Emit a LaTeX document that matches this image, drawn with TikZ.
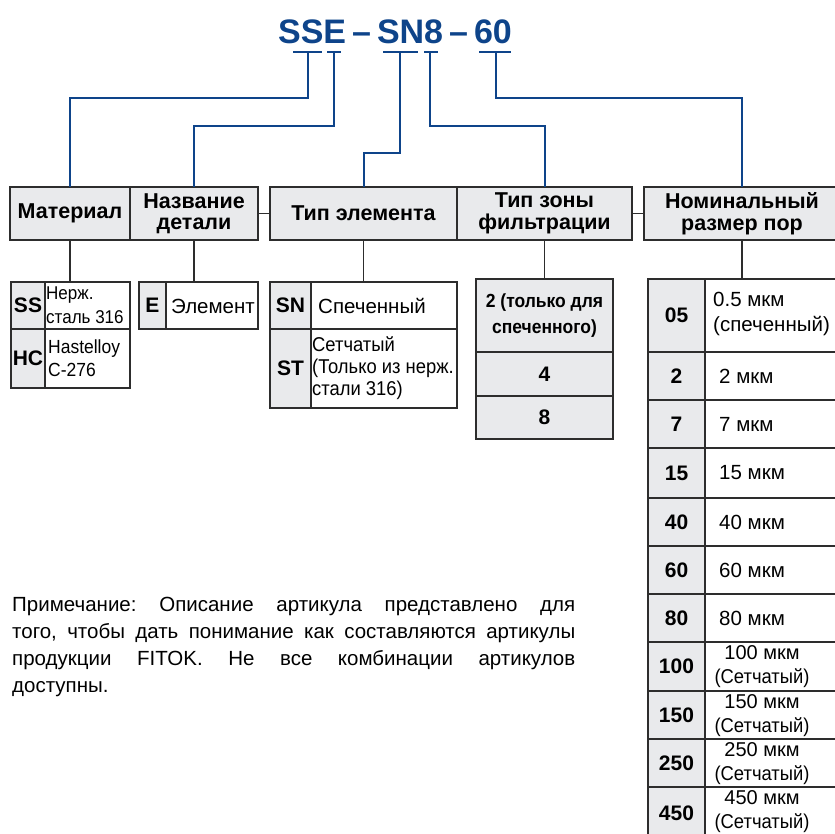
\documentclass[tikz,border=0pt]{standalone}
\usepackage{fontspec}
\setmainfont{Liberation Sans}
\newfontfamily\narrowfont[FakeStretch=0.92]{Liberation Sans}
\definecolor{fblue}{RGB}{14,68,138}
\definecolor{hgray}{RGB}{233,234,236}
\definecolor{bord}{RGB}{45,45,45}
\newcommand\cell[7][]{\node[box,#1,minimum width={(#5-#3)*1pt},minimum height={(#6-#4)*1pt}] (#2) at (#3,#4) {#7};}
\begin{document}
\begin{tikzpicture}[x=1pt,y=-1pt,
  box/.style={draw=bord, line width=1.3pt, anchor=north west, inner sep=0pt, outer sep=0pt},
  head/.style={box, fill=hgray, font=\bfseries\fontsize{21.5}{21.5}\selectfont, align=center},
  codec/.style={fill=hgray, font=\bfseries\fontsize{21}{22}\selectfont, align=center},
  desc/.style={anchor=west, inner sep=0pt, font=\fontsize{20.5}{24}\selectfont, align=left},
  ndesc/.style={anchor=west, inner sep=0pt, font=\narrowfont\fontsize{19}{23}\selectfont, align=left},
  bluel/.style={draw=fblue, line width=2pt},
  gline/.style={draw=bord, line width=1.3pt}]
\useasboundingbox (0,0) rectangle (835,833);

% title
\node[text=fblue, font=\bfseries\fontsize{34}{36}\selectfont, inner sep=0pt] (title) at (395,32) {SSE\hspace{6pt}--\hspace{6pt}SN8\hspace{6pt}--\hspace{6pt}60};
\coordinate (b1a) at (293,52); \coordinate (b1b) at (322,52);
\coordinate (b2a) at (327,52); \coordinate (b2b) at (341,52);
\coordinate (b3a) at (383,52); \coordinate (b3b) at (418,52);
\coordinate (b4a) at (424,52); \coordinate (b4b) at (438,52);
\coordinate (b5a) at (479,52); \coordinate (b5b) at (511,52);
\coordinate (t1) at (308,52); \coordinate (t2) at (334,52);
\coordinate (t3) at (400,52); \coordinate (t4) at (430,52);
\coordinate (t5) at (496,52);

% headers
\cell[head]{mat}{10}{187}{130}{240}{Материал}
\cell[head]{name}{130}{187}{258}{240}{Название\\детали}
\cell[head]{elem}{270}{187}{457}{240}{Тип элемента}
\cell[head]{zone}{457}{187}{632}{240}{Тип зоны\\фильтрации}
\cell[head]{size}{644}{187}{840}{240}{Номинальный\\размер пор}
\draw[gline] (name.east) -- (elem.west);
\draw[gline] (zone.east) -- (size.west);

% blue connectors
\foreach \i in {1,...,5} {\draw[bluel] (b\i a) -- (b\i b);}
\draw[bluel] (t1) -- (t1 |- 0,98) -| (mat.north);
\draw[bluel] (t2) -- (t2 |- 0,126) -| (name.north);
\draw[bluel] (t3) -- (t3 |- 0,153) -| (elem.north);
\draw[bluel] (t4) -- (t4 |- 0,126) -| (zone.north);
\draw[bluel] (t5) -- (t5 |- 0,98) -| (size.north);

% material table
\cell[codec]{ssC}{11}{282}{45}{329}{SS}
\cell{ssD}{45}{282}{130}{329}{}
\node[ndesc, font=\narrowfont\fontsize{18.5}{24}\selectfont] (ssT) at (46,305) {Нерж.\\сталь 316};
\cell[codec]{hcC}{11}{329}{45}{388}{HC}
\cell{hcD}{45}{329}{130}{388}{}
\node[ndesc] (hcT) at (48,358) {Hastelloy\\C-276};

% element
\cell[codec]{eC}{139}{282}{166}{329}{E}
\cell{eD}{166}{282}{258}{329}{}
\node[desc] (eT) at (171,306) {Элемент};

% element type
\cell[codec]{snC}{270}{282}{311}{329}{SN}
\cell{snD}{311}{282}{457}{329}{}
\node[desc] (snT) at (318,306) {Спеченный};
\cell[codec]{stC}{270}{329}{311}{408}{ST}
\cell{stD}{311}{329}{457}{408}{}
\node[ndesc, font=\narrowfont\fontsize{20}{22}\selectfont] (stT) at (312,368) {Сетчатый\\(Только из нерж.\\стали 316)};

% zone
\cell[codec, font=\narrowfont\bfseries\fontsize{19}{26}\selectfont]{z1}{476}{279}{613}{352}{2 (только для\\спеченного)}
\cell[codec]{z2}{476}{352}{613}{396}{4}
\cell[codec]{z3}{476}{396}{613}{439}{8}

% size table
\cell[codec]{s1C}{648}{279}{705}{352}{05}
\cell{s1D}{705}{279}{840}{352}{}
\node[desc, font=\fontsize{20.5}{25}\selectfont] (s1T) at (713,314) {0.5 мкм\\(спеченный)};
\foreach \n/\c/\a/\b in {2/2/352/400, 3/7/400/448, 4/15/448/498, 5/40/498/546, 6/60/546/594, 7/80/594/642} {
  \cell[codec]{s\n C}{648}{\a}{705}{\b}{\c}
  \cell{s\n D}{705}{\a}{840}{\b}{}
  \node[desc] (s\n T) at (719,{(\a+\b)/2}) {\c\ мкм};
}
\foreach \n/\c/\a/\b in {8/100/642/691, 9/150/691/739, 10/250/739/787, 11/450/787/840} {
  \cell[codec]{s\n C}{648}{\a}{705}{\b}{\c}
  \cell{s\n D}{705}{\a}{840}{\b}{}
  \node[anchor=center, inner sep=0pt, align=center, font=\fontsize{20}{24}\selectfont] (s\n T) at (762,{\a+25}) {\c\ мкм\\{\narrowfont\fontsize{20}{24}\selectfont(Сетчатый)}};
}

% vertical gray connectors
\draw[gline] (mat.south) -- (mat.south |- ssD.north);
\draw[gline] (name.south) -- (name.south |- eD.north);
\draw[gline] (elem.south) -- (elem.south |- snD.north);
\draw[gline] (zone.south) -- (zone.south |- z1.north);
\draw[gline] (size.south) -- (size.south |- s1D.north);

% note
\node[anchor=north west, inner sep=0pt, text width=563pt, align=justify,
      font=\fontsize{20.5}{27}\selectfont] (note) at (12,597)
 {\frenchspacing\hyphenpenalty=10000 Примечание: Описание артикула представлено для\linebreak того, чтобы дать понимание как составляются артикулы\linebreak продукции FITOK. Не все комбинации артикулов\linebreak доступны.};
\end{tikzpicture}
\end{document}
